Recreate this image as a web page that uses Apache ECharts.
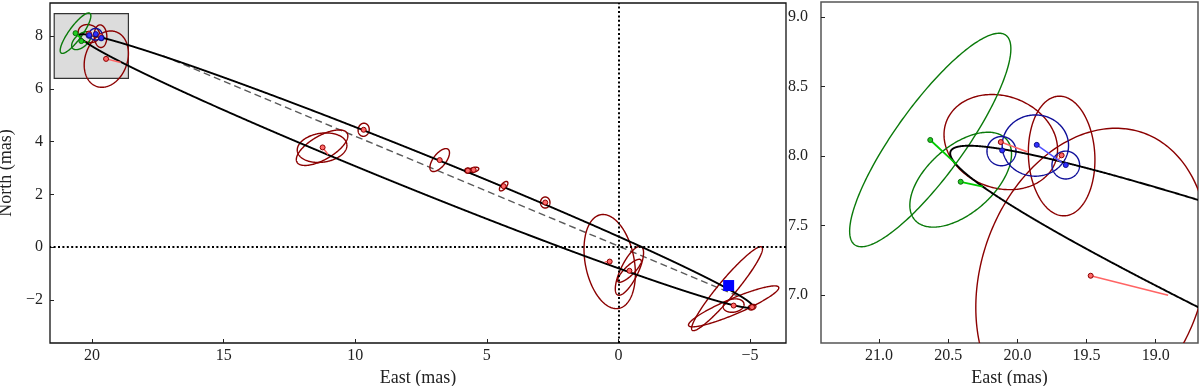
<!DOCTYPE html>
<html>
<head>
<meta charset="utf-8">
<script src="https://cdn.jsdelivr.net/npm/echarts@6/dist/echarts.min.js"></script>
<style>
  html, body { margin: 0; padding: 0; background: #fff; }
  #chart { width: 1200px; height: 386px; }
</style>
</head>
<body>
<div id="chart"></div>
<script>
// apparent orbit: [east, north, semi-major, semi-minor, angle (deg, screen)]
const orbit = [[7.69, 2.885, 13.79, 0.70, -21.92]]
const nodeLine = [[17.3, 7.25], [-4.5, -1.84]]
const insetBox = [[21.44, 8.86, 18.62, 6.40]]

// error ellipses: [east, north, a, b, angle]
const redEllipses = [
  [20.12, 8.10, 0.42, 0.33, -20],
  [19.68, 8.00, 0.43, 0.24, 93],
  [19.46, 7.13, 1.10, 0.80, 70],
  [9.68, 4.45, 0.25, 0.21, 80],
  [11.26, 3.77, 1.10, 0.45, 30],
  [11.26, 3.77, 0.95, 0.55, 8],
  [6.79, 3.30, 0.52, 0.24, 52],
  [5.72, 2.90, 0.12, 0.10, 0],
  [5.50, 2.93, 0.20, 0.09, 15],
  [4.36, 2.31, 0.22, 0.10, 50],
  [2.78, 1.69, 0.21, 0.18, 90],
  [0.33, -0.55, 1.81, 0.93, 101],
  [-0.42, -0.90, 1.02, 0.33, 64],
  [-0.42, -0.90, 0.60, 0.18, 44],
  [-4.13, -1.58, 2.06, 0.33, 50],
  [-4.38, -2.25, 1.86, 0.30, 23],
  [-4.38, -2.22, 0.40, 0.25, 10],
  [-5.08, -2.28, 0.15, 0.10, 20]
]
const greenEllipses = [
  [20.63, 8.115, 0.93, 0.25, 54],
  [20.41, 7.83, 0.44, 0.24, 41]
]
const blueEllipses = [
  [20.115, 8.035, 0.105, 0.105, 0],
  [19.87, 8.075, 0.24, 0.22, 0],
  [19.65, 7.935, 0.10, 0.10, 0]
]

// measured positions
const redPoints = [
  [20.12, 8.10], [19.68, 8.005], [19.47, 7.14], [9.68, 4.45], [11.24, 3.78],
  [6.79, 3.30], [5.72, 2.90], [5.50, 2.93], [4.36, 2.31], [2.78, 1.69],
  [0.33, -0.55], [-0.42, -0.90], [-4.13, -1.56], [-4.38, -2.22], [-5.08, -2.28]
]
const greenPoints = [[20.63, 8.115], [20.41, 7.815]]
const bluePoints = [[20.11, 8.04], [19.86, 8.08], [19.65, 7.935]]
const squarePoint = [[-4.19, -1.46]]

// measured -> model position on orbit: [east1, north1, east2, north2]
const redResiduals = [
  [20.12, 8.10, 19.93, 8.03], [19.68, 8.005, 19.71, 7.965], [19.47, 7.14, 18.91, 7.00],
  [11.24, 3.78, 11.03, 3.51], [0.33, -0.55, 0.52, -0.57], [-0.42, -0.90, -0.52, -0.93],
  [-4.13, -1.56, -4.05, -1.64]
]
const greenResiduals = [[20.63, 8.115, 20.44, 7.94], [20.41, 7.815, 20.25, 7.78]]
const blueResiduals = [[19.86, 8.08, 19.68, 7.955]]

const xTicksMain = [20, 15, 10, 5, 0, -5]
const yTicksMain = [-2, 0, 2, 4, 6, 8]
const xTicksZoom = [21, 20.5, 20, 19.5, 19]
const yTicksZoom = [7, 7.5, 8, 8.5, 9]

const font = 'Liberation Serif'

function clipTo (params, children) {
  const c = params.coordSys
  return {
    type: 'group',
    clipPath: { type: 'rect', shape: { x: c.x, y: c.y, width: c.width, height: c.height } },
    children: children
  }
}

function ellipseSeries (data, color, width, gi, steps, z) {
  return {
    type: 'custom',
    xAxisIndex: gi,
    yAxisIndex: gi,
    z: z,
    silent: true,
    data: data,
    encode: { x: 0, y: 1 },
    renderItem: function (params, api) {
      const cx = api.value(0), cy = api.value(1)
      const a = api.value(2), b = api.value(3)
      const ang = api.value(4) * Math.PI / 180
      const pts = []
      for (let i = 0; i <= steps; i++) {
        const t = i / steps * 2 * Math.PI
        const u = a * Math.cos(t), v = b * Math.sin(t)
        const dx = u * Math.cos(ang) - v * Math.sin(ang)
        const dy = u * Math.sin(ang) + v * Math.cos(ang)
        // screen x runs toward decreasing East
        pts.push(api.coord([cx - dx, cy + dy]))
      }
      return clipTo(params, [{
        type: 'polyline',
        shape: { points: pts },
        style: { stroke: color, lineWidth: width, fill: null }
      }])
    }
  }
}

function segmentSeries (data, color, width, gi, z) {
  return {
    type: 'custom',
    xAxisIndex: gi,
    yAxisIndex: gi,
    z: z,
    silent: true,
    data: data,
    encode: { x: 0, y: 1 },
    renderItem: function (params, api) {
      const p1 = api.coord([api.value(0), api.value(1)])
      const p2 = api.coord([api.value(2), api.value(3)])
      return clipTo(params, [{
        type: 'line',
        shape: { x1: p1[0], y1: p1[1], x2: p2[0], y2: p2[1] },
        style: { stroke: color, lineWidth: width }
      }])
    }
  }
}

function dotSeries (data, fill, edge, gi, z) {
  return {
    type: 'scatter',
    xAxisIndex: gi,
    yAxisIndex: gi,
    z: z,
    silent: true,
    data: data,
    symbolSize: 5,
    itemStyle: { color: fill, borderColor: edge, borderWidth: 1, opacity: 1 }
  }
}

function layerSeries (gi) {
  return [
    ellipseSeries(redEllipses, '#8b0000', 1.4, gi, 240, 3),
    ellipseSeries(greenEllipses, '#0a7a0a', 1.4, gi, 240, 3),
    ellipseSeries(blueEllipses, '#10109a', 1.4, gi, 240, 3),
    ellipseSeries(orbit, '#000', 1.9, gi, 6000, 4),
    segmentSeries(redResiduals, '#ff6464', 1.5, gi, 5),
    segmentSeries(greenResiduals, '#00cc00', 1.8, gi, 5),
    segmentSeries(blueResiduals, '#5050ff', 1.5, gi, 5),
    dotSeries(redPoints, '#ff6a6a', '#8b0000', gi, 6),
    dotSeries(greenPoints, '#22cc22', '#0a6a0a', gi, 6),
    dotSeries(bluePoints, '#3030ff', '#10108a', gi, 6)
  ]
}

function fmt (digits) {
  return function (v) {
    const s = Math.abs(v).toFixed(digits)
    return v < 0 ? '\u2212' + s : s
  }
}

function axisCommon (ticks, digits, margin) {
  return {
    type: 'value',
    axisLine: { show: false, onZero: false },
    splitLine: { show: false },
    axisTick: { inside: true, length: 4, customValues: ticks, lineStyle: { color: '#222', width: 1 } },
    axisLabel: { customValues: ticks, formatter: fmt(digits), fontFamily: font, fontSize: 16, color: '#222', margin: margin },
    nameTextStyle: { fontFamily: font, fontSize: 18, color: '#222' }
  }
}

const chart = echarts.init(document.getElementById('chart'))

chart.setOption({
  animation: false,
  backgroundColor: '#fff',
  grid: [
    { left: 50, top: 3, width: 736, height: 340, outerBoundsMode: 'none', containLabel: false, show: true, borderColor: '#111', borderWidth: 1.3, backgroundColor: '#fff' },
    { left: 821, top: 2, width: 377, height: 341, outerBoundsMode: 'none', containLabel: false, show: true, borderColor: '#555', borderWidth: 1.5, backgroundColor: '#fff' }
  ],
  xAxis: [
    Object.assign(axisCommon(xTicksMain, 0, 5), { gridIndex: 0, min: -6.37, max: 21.6, inverse: true, name: 'East (mas)', nameLocation: 'middle', nameGap: 22 }),
    Object.assign(axisCommon(xTicksZoom, 1, 5), { gridIndex: 1, min: 18.694, max: 21.42, inverse: true, name: 'East (mas)', nameLocation: 'middle', nameGap: 22 })
  ],
  yAxis: [
    Object.assign(axisCommon(yTicksMain, 0, 7), { gridIndex: 0, min: -3.64, max: 9.26, name: 'North (mas)', nameLocation: 'middle', nameGap: 28 }),
    Object.assign(axisCommon(yTicksZoom, 1, 13), { gridIndex: 1, min: 6.657, max: 9.106 })
  ],
  series: [
    {
      type: 'custom',
      xAxisIndex: 0,
      yAxisIndex: 0,
      z: 1,
      silent: true,
      data: insetBox,
      encode: { x: 0, y: 1 },
      renderItem: function (params, api) {
        const p1 = api.coord([api.value(0), api.value(1)])
        const p2 = api.coord([api.value(2), api.value(3)])
        return {
          type: 'rect',
          shape: { x: p1[0], y: p1[1], width: p2[0] - p1[0], height: p2[1] - p1[1] },
          style: { fill: '#dcdcdc', stroke: '#333', lineWidth: 1.2 }
        }
      }
    },
    {
      type: 'line',
      xAxisIndex: 0,
      yAxisIndex: 0,
      z: 2,
      silent: true,
      data: nodeLine,
      symbol: 'none',
      lineStyle: { color: '#5a5a5a', width: 1.4, type: [7, 4] },
      markLine: {
        silent: true,
        symbol: 'none',
        label: { show: false },
        lineStyle: { color: '#000', width: 2, type: [2, 2.4] },
        data: [{ xAxis: 0 }, { yAxis: 0 }]
      }
    },
    ...layerSeries(0),
    ...layerSeries(1),
    {
      type: 'scatter',
      xAxisIndex: 0,
      yAxisIndex: 0,
      z: 7,
      silent: true,
      data: squarePoint,
      symbol: 'rect',
      symbolSize: 11,
      itemStyle: { color: '#0000ff', opacity: 1 }
    }
  ]
})
</script>
</body>
</html>
